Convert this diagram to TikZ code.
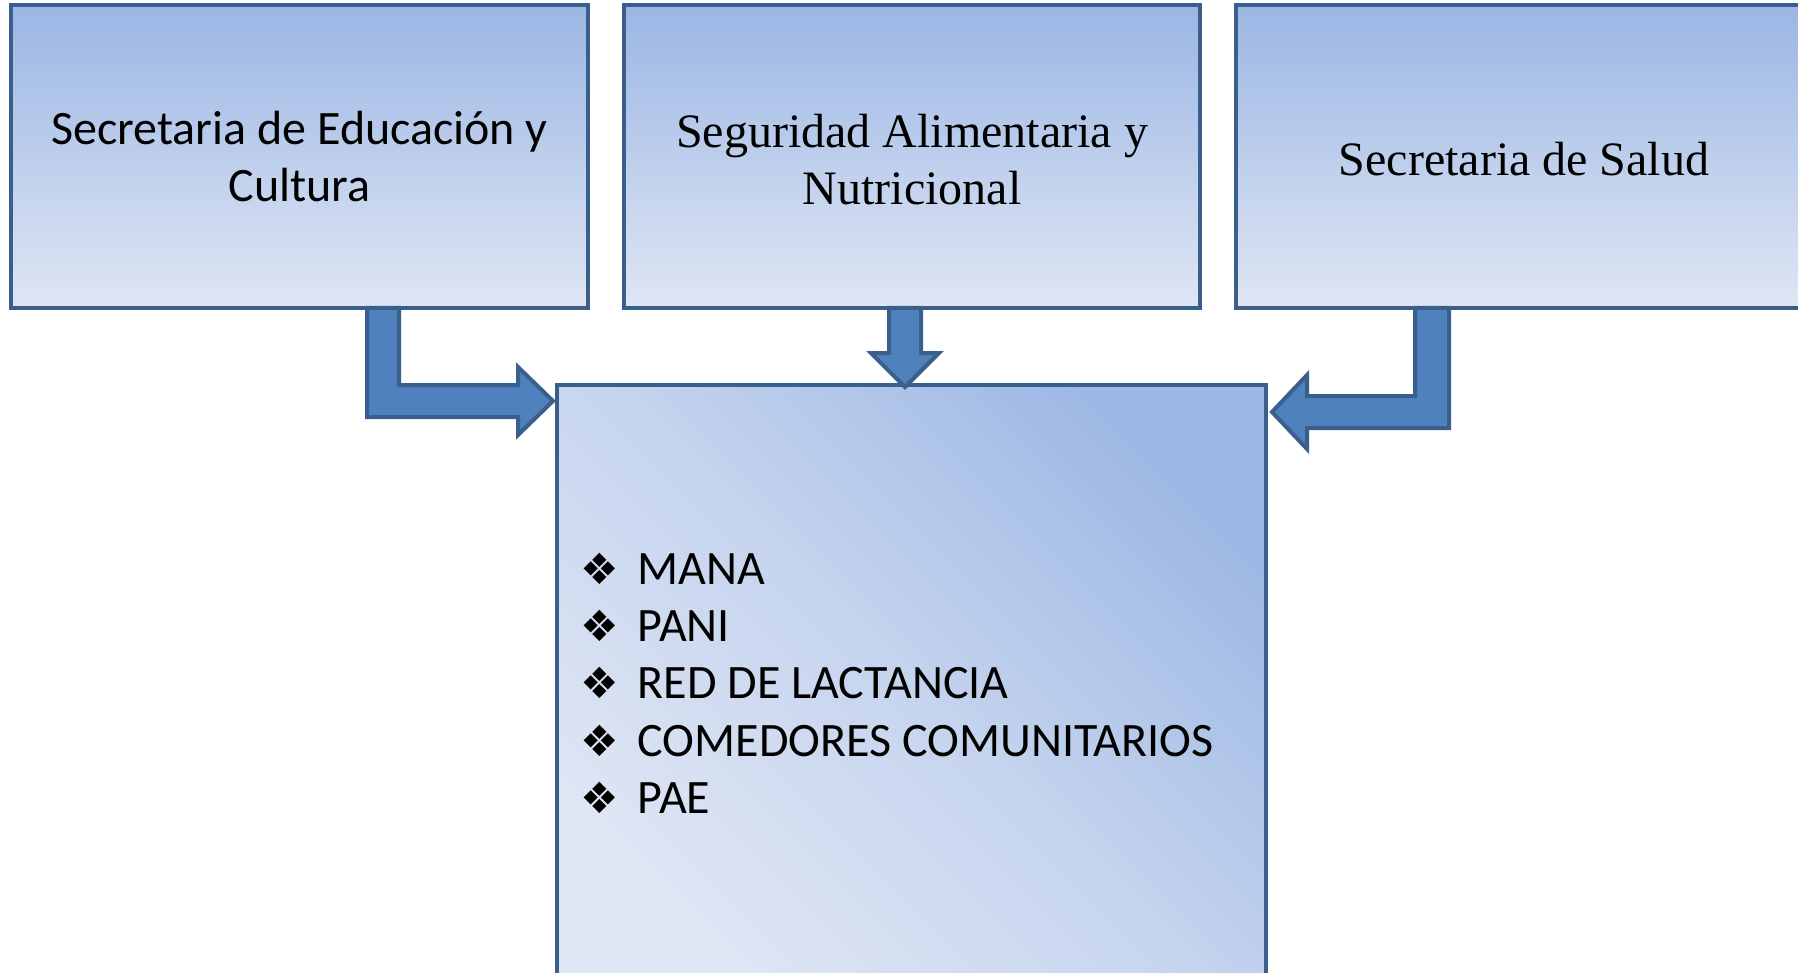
\documentclass[tikz,border=0pt]{standalone}
\usepackage{fontspec}
\setmainfont{Carlito}
\newfontfamily\carlito{Carlito}
\newfontfamily\libserif{Liberation Serif}
\newfontfamily\dejavu{DejaVu Sans}
\usetikzlibrary{calc}
\definecolor{bordc}{HTML}{3A5F8D}
\definecolor{arrfill}{HTML}{4F81BD}
\definecolor{gtop}{HTML}{9BB6E4}
\definecolor{gbot}{HTML}{DFE6F4}
\tikzset{
  topbox/.style={draw=bordc, line width=4.5pt, top color=gtop, bottom color=gbot,
    minimum width=576pt, minimum height=303pt, inner sep=0pt, outer sep=0pt, align=center},
  botbox/.style={draw=bordc, line width=4.5pt, top color=gtop!95!gbot, bottom color=gbot,
    middle color=gbot!62!gtop, shading angle=-45, minimum width=709pt, minimum height=600pt,
    inner sep=0pt, outer sep=0pt},
  bigarrow/.style={draw=bordc, fill=arrfill, line width=4pt, line join=miter},
  sansfont/.style={font=\carlito\fontsize{48}{57}\selectfont},
  seriffont/.style={font=\libserif\fontsize{48}{57}\selectfont},
  listitem/.style={anchor=base west, inner sep=0pt, font=\carlito\fontsize{48}{57}\selectfont}
}
\newcommand{\blt}{\makebox[57.5pt][l]{\dejavu\fontsize{43}{43}\selectfont ❖}}
\newcommand{\lowered}[1]{\raisebox{-3pt}[\height][\depth]{#1}}
\begin{document}
\begin{tikzpicture}[x=1pt,y=-1pt]
\clip (0,0) rectangle (1798,973);
\fill[white] (0,0) rectangle (1798,973);
% boxes
\node[topbox, sansfont, minimum width=577pt] (b1) at (299.5,156.5) {Secretaria de Educación y\\Cultura};
\node[topbox, seriffont] (b2) at (912,156.5) {\lowered{Seguridad Alimentaria y}\\\lowered{Nutricional}};
\node[topbox, seriffont] (b3) at (1524,156.5) {\lowered{Secretaria de Salud}};
\node[botbox] (bot) at (911.5,685) {};
% list
\node[listitem] (l1) at (580,584) {\blt MANA};
\node[listitem] (l2) at (580,641) {\blt PANI};
\node[listitem] (l3) at (580,698.5) {\blt RED DE LACTANCIA};
\node[listitem] (l4) at (580,756) {\blt COMEDORES COMUNITARIOS};
\node[listitem] (l5) at (580,813) {\blt PAE};
% arrows
\draw[bigarrow] ($(bot.north west)+(-4,16)$) -- ++(-35,-34) -- ++(0,18) -- ++(-119,0)
  -- ($(b1.south west)+(388,0)$) -- ++(-32,0) -- ++(0,109) -- ++(151,0) -- ++(0,18) -- cycle;
\draw[bigarrow] ($(bot.north west)+(348,2)$) -- ++(-34,-34) -- ++(18,0)
  -- ($(b2.south west)+(265,0)$) -- ++(32,0) -- ++(0,45) -- ++(18,0) -- cycle;
\draw[bigarrow] ($(bot.north east)+(6,27)$) -- ++(35,-37) -- ++(0,21) -- ++(108,0)
  -- ($(b3.south west)+(179,0)$) -- ++(34,0) -- ++(0,120) -- ++(-142,0) -- ++(0,21) -- cycle;
\end{tikzpicture}
\end{document}
